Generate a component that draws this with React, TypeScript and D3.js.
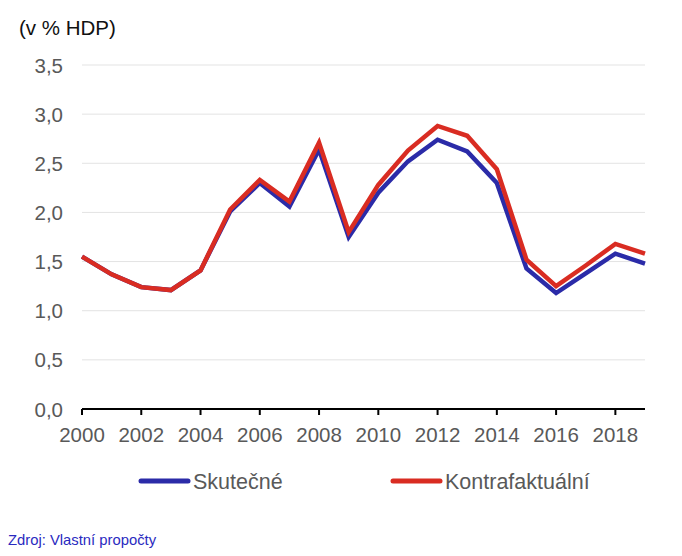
import React from "react";
import * as d3 from "d3";

const years = [2000, 2001, 2002, 2003, 2004, 2005, 2006, 2007, 2008, 2009, 2010, 2011, 2012, 2013, 2014, 2015, 2016, 2017, 2018, 2019];
const skutecne = [1.55, 1.37, 1.24, 1.21, 1.41, 2.01, 2.30, 2.06, 2.64, 1.75, 2.20, 2.52, 2.74, 2.62, 2.30, 1.43, 1.18, 1.38, 1.58, 1.48];
const kontrafaktualni = [1.55, 1.37, 1.24, 1.21, 1.41, 2.03, 2.33, 2.11, 2.71, 1.80, 2.28, 2.63, 2.88, 2.78, 2.44, 1.52, 1.25, 1.46, 1.68, 1.58];
const yTicks = [0, 0.5, 1, 1.5, 2, 2.5, 3, 3.5];
const xTicks = [2000, 2002, 2004, 2006, 2008, 2010, 2012, 2014, 2016, 2018];
const seriesNames = ["Skutečné", "Kontrafaktuální"];
const colors = ["#2b2ba8", "#d92c22"];

export default function App() {
  const W = 682, H = 556;
  const x = d3.scaleLinear().domain([2000, 2019]).range([82, 645]);
  const y = d3.scaleLinear().domain([0, 3.5]).range([409, 65]);
  const line = d3.line<number>().x((_, i) => x(years[i])).y((d) => y(d));
  const fmt = (v: number) => v.toFixed(1).replace(".", ",");
  const font = "'Liberation Sans', Arial, sans-serif";
  const series = [skutecne, kontrafaktualni];
  const legendX = [141, 393];
  return (
    <svg width={W} height={H} style={{ position: "absolute", left: 0, top: 0 }} fontFamily={font}>
      <rect width={W} height={H} fill="#fff" />
      <text x={19} y={35} fontSize={20.5} fill="#111">(v % HDP)</text>
      {yTicks.map((t) => (
        <g key={t}>
          {t > 0 && <line x1={82} x2={645} y1={y(t)} y2={y(t)} stroke="#e3e3e3" strokeWidth={1} />}
          <text x={63} y={y(t) + 7.5} textAnchor="end" fontSize={20.5} fill="#595959">{fmt(t)}</text>
        </g>
      ))}
      {series.map((s, i) => (
        <path key={i} d={line(s) || ""} fill="none" stroke={colors[i]} strokeWidth={4.5} strokeLinejoin="miter" />
      ))}
      <line x1={82} x2={645} y1={409} y2={409} stroke="#000" strokeWidth={2} />
      {xTicks.map((t) => (
        <g key={t}>
          <line x1={x(t)} x2={x(t)} y1={409} y2={415} stroke="#000" strokeWidth={2} />
          <text x={x(t)} y={442} textAnchor="middle" fontSize={20.5} fill="#595959">{t}</text>
        </g>
      ))}
      {seriesNames.map((n, i) => (
        <g key={n}>
          <line x1={legendX[i]} x2={legendX[i] + 47} y1={481} y2={481} stroke={colors[i]} strokeWidth={5} strokeLinecap="round" />
          <text x={legendX[i] + 52} y={488.5} fontSize={21.5} fill="#595959">{n}</text>
        </g>
      ))}
      <text x={8} y={545} fontSize={14.8} fill="#2a2ac0">Zdroj: Vlastní propočty</text>
    </svg>
  );
}
